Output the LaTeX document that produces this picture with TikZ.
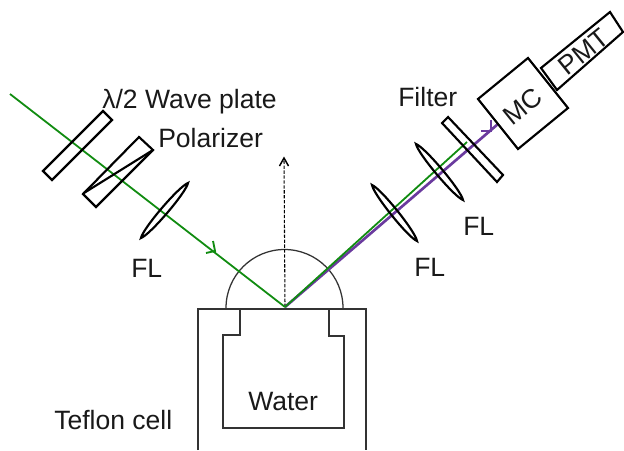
\documentclass[tikz,border=0pt]{standalone}
\usepackage{fontspec}
\setmainfont{Liberation Sans}
\usetikzlibrary{arrows.meta,calc}
\definecolor{beamgreen}{HTML}{118C11}
\definecolor{beampurple}{HTML}{6A3A9E}
\tikzset{
  x=0.75pt,y=-0.75pt,
  optic/.style={draw=black,line width=1.6pt,line join=miter},
  thinline/.style={draw=black!80,line width=0.95pt},
  lbl/.style={font=\fontsize{19.9}{24}\selectfont,text=black!90,inner sep=0pt},
  greenray/.style={draw=beamgreen,line width=1.35pt},
  purpleray/.style={draw=beampurple,line width=2pt},
}
\newcommand{\lens}[2]{\draw[optic] #1 .. controls ($#1!0.12!#2!3.6pt!90:#2$) and ($#1!0.88!#2!3.6pt!-90:#1$) .. #2 .. controls ($#2!0.12!#1!3.6pt!90:#1$) and ($#2!0.88!#1!3.6pt!-90:#2$) .. cycle;}
\begin{document}
\begin{tikzpicture}
\useasboundingbox (0,0) rectangle (624,450);
\clip (0,0) rectangle (624,450);
% cell
\draw[thinline] (198,450)--(198,309)--(366,309)--(366,450);
\draw[thinline] (240,309)--(240,335)--(223,335)--(223,428)--(344,428)--(344,336)--(329,336)--(329,309);
\draw[thinline] (226,308) arc[start angle=180,end angle=360,radius=58.5];
% dashed
\coordinate (P) at (285,307);
\coordinate (Ptop) at (284,158);
\draw[black,line width=0.8pt,dashed,dash pattern=on 2.5pt off 1.2pt] (P)--(Ptop);
\draw[black,line width=1.1pt] (279.5,166)--(284,158)--(288.5,166);
% rays
\coordinate (S) at (10,94);
\coordinate (MCin) at (498,124);
\coordinate (Fin) at (467,142);
\draw[purpleray] (P)--(MCin);
\draw[beampurple,line width=1.7pt] (481,131)--(491,131)--(491,120);
\draw[greenray] (S)--(P);
\draw[greenray] (P)--(Fin);
\draw[beamgreen,line width=1.4pt] (206,253)--(215,251)--(213,241);
% optics
\draw[optic] (103,111)--(112,120)--(52,180)--(43,171)--cycle;
\draw[optic] (139,137)--(153,150)--(96,207)--(83,194)--cycle;
\draw[optic] (153,150)--(84,193);
\lens{(188,183)}{(141,238)}
\draw[optic] (448,117)--(442,123)--(497,182)--(503,175)--cycle;
\lens{(416,144)}{(463,200)}
\lens{(372,185)}{(417,241)}
\draw[optic] (528,58)--(478,99)--(518,149)--(568,108)--cycle;
\draw[optic] (541,68)--(610,12)--(623,32)--(557,90)--cycle;
% labels
\node[lbl,anchor=base west] (lab1) at (102,108) {λ/2 Wave plate};
\node[lbl,anchor=base west] (lab2) at (158,147) {Polarizer};
\node[lbl,anchor=base west] (lab3) at (131,277) {FL};
\node[lbl,anchor=base west] (lab4) at (398,106) {Filter};
\node[lbl,anchor=base west] (lab5) at (463,235) {FL};
\node[lbl,anchor=base west] (lab6) at (414,276) {FL};
\node[lbl,anchor=base west] (lab7) at (248,410) {Water};
\node[lbl,anchor=base west] (lab8) at (54,429) {Teflon cell};
\node[lbl,rotate=39] (lab9) at (523,106) {MC};
\node[lbl,rotate=39] (lab10) at (584,52) {PMT};
\end{tikzpicture}
\end{document}
